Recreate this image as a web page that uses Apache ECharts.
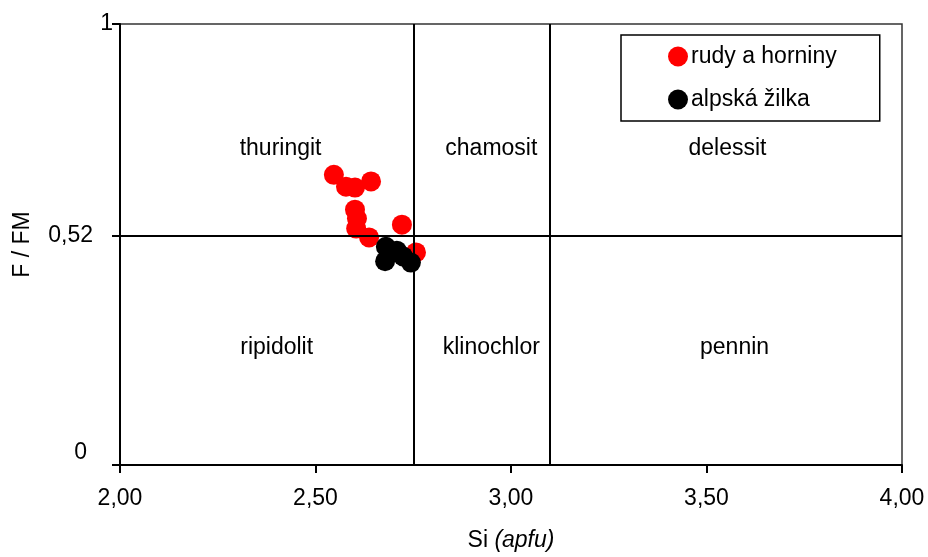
<!DOCTYPE html>
<html>
<head>
<meta charset="utf-8">
<script src="https://cdn.jsdelivr.net/npm/echarts@6/dist/echarts.min.js"></script>
<style>
  html, body { margin: 0; padding: 0; background: #fff; }
  #chart { width: 928px; height: 557px; }
</style>
</head>
<body>
<div id="chart"></div>
<script>
// Chlorite classification: Si (apfu) vs. F/FM
const seriesNames = ['rudy a horniny', 'alpská žilka'];

const siRudy = [2.547, 2.578, 2.601, 2.642, 2.601, 2.606, 2.604, 2.637, 2.721, 2.757];
const fmRudy = [0.658, 0.631, 0.629, 0.643, 0.579, 0.559, 0.536, 0.516, 0.545, 0.482];

const siZilka = [2.680, 2.708, 2.678, 2.724, 2.744];
const fmZilka = [0.495, 0.486, 0.462, 0.473, 0.459];

// field boundaries
const siBoundaries = [2.75, 3.10];
const fmBoundary = 0.52;

// field names and where they sit
const fieldNames = ['thuringit', 'chamosit', 'delessit', 'ripidolit', 'klinochlor', 'pennin'];
const fieldSi = [2.412, 2.951, 3.555, 2.402, 2.951, 3.573];
const fieldFm = [0.717, 0.717, 0.717, 0.264, 0.264, 0.264];

const yTickValues = [0, 0.52, 1];
const yTickLabels = ['0', '0,52', '1'];

const FONT = 'Liberation Sans, Arial, sans-serif';

const zip = (a, b) => a.map((v, i) => [v, b[i]]);

const chart = echarts.init(document.getElementById('chart'), null, { renderer: 'canvas' });

const markLines = siBoundaries.map(v => ({ xAxis: v })).concat([{ yAxis: fmBoundary }]);

chart.setOption({
  animation: false,
  backgroundColor: '#fff',
  grid: {
    left: 120, right: 26, top: 24, bottom: 91,
    show: true, borderColor: '#333', borderWidth: 1.5, backgroundColor: 'transparent'
  },
  legend: {
    orient: 'vertical',
    left: 621, top: 35,
    padding: [10, 43, 10, 47],
    itemGap: 20,
    itemWidth: 20, itemHeight: 20,
    borderColor: '#000', borderWidth: 1.5,
    backgroundColor: '#fff',
    textStyle: { fontFamily: FONT, fontSize: 23, color: '#000', padding: [0, 0, 0, -2] },
    data: seriesNames.map(n => ({ name: n, icon: 'circle' }))
  },
  xAxis: {
    type: 'value',
    min: 2, max: 4, interval: 0.5,
    name: '{n|Si }{i|(apfu)}',
    nameLocation: 'middle',
    nameGap: 64,
    nameTextStyle: {
      rich: {
        n: { fontFamily: FONT, fontSize: 23, color: '#000' },
        i: { fontFamily: FONT, fontSize: 23, color: '#000', fontStyle: 'italic' }
      }
    },
    axisLine: { show: true, lineStyle: { color: '#000', width: 2 } },
    axisTick: { show: true, inside: false, length: 8, lineStyle: { color: '#000', width: 2 } },
    axisLabel: {
      margin: 22, fontFamily: FONT, fontSize: 23, color: '#000',
      formatter: v => v.toFixed(2).replace('.', ',')
    },
    splitLine: { show: false }
  },
  yAxis: {
    type: 'value',
    min: 0, max: 1,
    name: 'F / FM',
    nameLocation: 'middle',
    nameGap: 86,
    nameTextStyle: { fontFamily: FONT, fontSize: 23, color: '#000' },
    axisLine: { show: true, lineStyle: { color: '#000', width: 2 } },
    axisTick: {
      show: true, inside: false, length: 8,
      customValues: yTickValues,
      lineStyle: { color: '#000', width: 2 }
    },
    axisLabel: {
      margin: 5,
      customValues: yTickValues,
      formatter: v => {
        const i = yTickValues.findIndex(t => Math.abs(t - v) < 1e-9);
        const txt = i >= 0 ? yTickLabels[i] : '';
        if (v === 0) return '{lo|' + txt + '}';
        if (v === 1) return '{hi|' + txt + '}';
        return '{mid|' + txt + '}';
      },
      rich: {
        hi: { fontFamily: FONT, fontSize: 23, color: '#000', padding: [0, 2, 0, 0] },
        mid: { fontFamily: FONT, fontSize: 23, color: '#000', padding: [0, 22, 0, 0] },
        lo: { fontFamily: FONT, fontSize: 23, color: '#000', padding: [0, 28, 24, 0] }
      }
    },
    splitLine: { show: false }
  },
  series: [
    {
      name: 'fields',
      type: 'scatter',
      symbolSize: 1,
      silent: true,
      itemStyle: { color: 'rgba(0,0,0,0)' },
      data: fieldNames.map((n, i) => ({ value: [fieldSi[i], fieldFm[i]], name: n })),
      label: {
        show: true, position: [0, 0],
        align: 'center', verticalAlign: 'middle',
        formatter: p => p.name,
        fontFamily: FONT, fontSize: 23, color: '#000', opacity: 1
      },
      markLine: {
        silent: true,
        symbol: 'none',
        label: { show: false },
        lineStyle: { color: '#000', width: 2, type: 'solid' },
        data: markLines
      },
      z: 1
    },
    {
      name: seriesNames[0],
      type: 'scatter',
      symbol: 'circle',
      symbolSize: 20,
      itemStyle: { color: '#ff0000', opacity: 1 },
      data: zip(siRudy, fmRudy),
      z: 3
    },
    {
      name: seriesNames[1],
      type: 'scatter',
      symbol: 'circle',
      symbolSize: 20,
      itemStyle: { color: '#000000', opacity: 1 },
      data: zip(siZilka, fmZilka),
      z: 4
    }
  ]
});
</script>
</body>
</html>
